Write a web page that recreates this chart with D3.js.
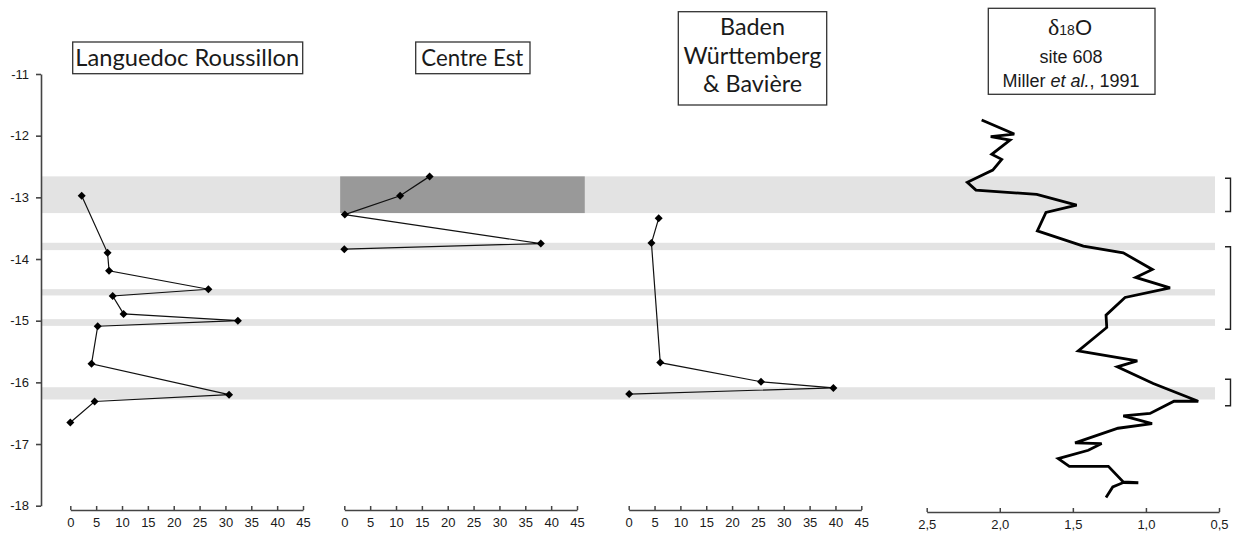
<!DOCTYPE html>
<html>
<head>
<meta charset="utf-8">
<script src="https://cdn.jsdelivr.net/npm/d3@7"></script>
<style>
  html, body { margin: 0; padding: 0; background: #fff; }
  svg { display: block; }
  text { font-family: "Liberation Sans", Arial, sans-serif; fill: #1a1a1a; }
  .title { font-family: Lato, "Open Sans", sans-serif; }
</style>
</head>
<body>
<svg id="chart" width="1236" height="535"></svg>
<script>
// ---------------- DATA ----------------
const yTicks = [-11, -12, -13, -14, -15, -16, -17, -18];
const countTicks = [0, 5, 10, 15, 20, 25, 30, 35, 40, 45];
const d18Ticks = [2.5, 2.0, 1.5, 1.0, 0.5];
const d18TickLabels = ["2,5", "2,0", "1,5", "1,0", "0,5"];

// highlighted horizons [top, bottom] (age axis)
const bandTops    = [-12.66, -13.737, -14.489, -14.975, -16.079];
const bandBottoms = [-13.255, -13.856, -14.591, -15.084, -16.278];

// Centre Est dark box (x in panel units, y range)
const centreBoxX = [-0.8, 46.5];
const centreBoxY = [-12.66, -13.255];

// Languedoc Roussillon
const lrAge   = [-12.975, -13.90, -14.19, -14.49, -14.60, -14.89, -15.00, -15.09, -15.70, -16.20, -16.31, -16.65];
const lrValue = [2.2, 7.2, 7.5, 26.7, 8.2, 10.3, 32.4, 5.3, 4.1, 30.7, 4.7, 0];

// Centre Est
const ceAge   = [-12.66, -12.975, -13.28, -13.75, -13.84];
const ceValue = [16.5, 10.8, 0.1, 38.0, 0];

// Baden Württemberg & Bavière
const bwAge   = [-13.34, -13.74, -15.68, -15.99, -16.09, -16.19];
const bwValue = [5.8, 4.4, 6.1, 25.6, 39.6, 0.1];

// δ18O site 608 (Miller et al., 1991)
const d18Age = [-11.746, -11.974, -12.017, -12.071, -12.303, -12.384, -12.558, -12.757, -12.882, -12.952,
                -13.126, -13.244, -13.543, -13.791, -13.900, -14.169, -14.299, -14.467, -14.623, -14.910,
                -15.110, -15.490, -15.652, -15.749, -16.019, -16.306, -16.306, -16.505, -16.544, -16.668,
                -16.744, -16.982, -16.992, -17.101, -17.236, -17.361, -17.361, -17.615, -17.628, -17.625,
                -17.696, -17.868];
const d18Value = [2.124, 1.901, 2.062, 1.930, 2.055, 1.987, 2.048, 2.222, 2.163, 1.747,
                  1.474, 1.684, 1.743, 1.428, 1.155, 0.956, 1.070, 0.835, 1.143, 1.273,
                  1.268, 1.463, 1.059, 1.196, 0.950, 0.642, 0.808, 0.972, 1.155, 0.958,
                  1.191, 1.485, 1.303, 1.394, 1.600, 1.524, 1.257, 1.155, 1.052, 1.155,
                  1.227, 1.273];

// brackets on the right [top, bottom]
const bracketTops    = [-12.69, -13.80, -15.95];
const bracketBottoms = [-13.23, -15.14, -16.38];

const titles = [["Languedoc Roussillon"], ["Centre Est"], ["Baden", "Württemberg", "& Bavière"]];

// ---------------- CHART ----------------
const svg = d3.select("#chart");
svg.append("rect").attr("width", 1236).attr("height", 535).attr("fill", "#fff");

const y = d3.scaleLinear().domain([-11, -18]).range([74, 505.7]);
const x1 = d3.scaleLinear().domain([0, 45]).range([70.3, 303]);
const x2 = d3.scaleLinear().domain([0, 45]).range([344.3, 577]);
const x3 = d3.scaleLinear().domain([0, 45]).range([628.7, 861.3]);
const x4 = d3.scaleLinear().domain([2.5, 0.5]).range([926.7, 1219]);

const bandLeft = 41, bandRight = 1215;

// bands
svg.append("g").selectAll("rect").data(bandTops).join("rect")
  .attr("x", bandLeft).attr("width", bandRight - bandLeft)
  .attr("y", d => y(d))
  .attr("height", (d, i) => y(bandBottoms[i]) - y(d))
  .attr("fill", "#e3e3e3");

// Centre Est dark box
svg.append("rect")
  .attr("x", x2(centreBoxX[0])).attr("width", x2(centreBoxX[1]) - x2(centreBoxX[0]))
  .attr("y", y(centreBoxY[0])).attr("height", y(centreBoxY[1]) - y(centreBoxY[0]))
  .attr("fill", "#999999");

// Y axis
const yAxis = svg.append("g").attr("transform", "translate(41,0)")
  .call(d3.axisLeft(y).tickValues(yTicks).tickFormat(d => String(d)).tickSize(5).tickSizeOuter(0).tickPadding(7));
yAxis.selectAll("path, line").attr("stroke", "#444").attr("stroke-width", 1.6);
yAxis.selectAll("text").attr("font-size", 13).attr("fill", "#111")
  .style("font-family", "'Liberation Sans', Arial, sans-serif");

// X axes
function bottomAxis(scale, yPos, ticks, fmt) {
  const g = svg.append("g").attr("transform", `translate(0,${yPos})`)
    .call(d3.axisBottom(scale).tickValues(ticks).tickFormat(fmt).tickSizeInner(-4).tickSizeOuter(0).tickPadding(8));
  g.selectAll("path, line").attr("stroke", "#444").attr("stroke-width", 1.5);
  g.selectAll("text").attr("font-size", 13).attr("fill", "#111")
    .style("font-family", "'Liberation Sans', Arial, sans-serif");
  return g;
}
bottomAxis(x1, 510, countTicks, d => String(d));
bottomAxis(x2, 510, countTicks, d => String(d));
bottomAxis(x3, 510, countTicks, d => String(d));
bottomAxis(x4, 512, d18Ticks, (d, i) => d18TickLabels[i]);

// series with diamonds
const diamond = d3.symbol(d3.symbolSquare, 32);
function series(xs, ages, vals) {
  const pts = ages.map((a, i) => [xs(vals[i]), y(a)]);
  svg.append("path").attr("d", d3.line()(pts))
    .attr("fill", "none").attr("stroke", "#111").attr("stroke-width", 1.2);
  svg.append("g").selectAll("path").data(pts).join("path")
    .attr("d", diamond)
    .attr("transform", d => `translate(${d[0]},${d[1]}) rotate(45)`)
    .attr("fill", "#000");
}
series(x1, lrAge, lrValue);
series(x2, ceAge, ceValue);
series(x3, bwAge, bwValue);

// δ18O curve
svg.append("path")
  .attr("d", d3.line().x((d, i) => x4(d18Value[i])).y(d => y(d))(d18Age))
  .attr("fill", "none").attr("stroke", "#000").attr("stroke-width", 2.8)
  .attr("stroke-linejoin", "miter").attr("stroke-miterlimit", 3);

// brackets
const bx0 = 1225, bx1 = 1230.5;
svg.append("g").selectAll("path").data(bracketTops).join("path")
  .attr("d", (d, i) => `M${bx0},${y(d)}H${bx1}V${y(bracketBottoms[i])}H${bx0}`)
  .attr("fill", "none").attr("stroke", "#222").attr("stroke-width", 1.4);

// ---------------- TITLES ----------------
function fitText(t, target, maxSize) {
  let fs = maxSize;
  t.attr("font-size", fs);
  const w = t.node().getComputedTextLength();
  if (w > 0) { fs = Math.min(maxSize * 1.3, fs * target / w); t.attr("font-size", fs); }
  return fs;
}
const boxes = [
  {x0: 72.7, x1: 302.7, y0: 42, y1: 73.7, cx: 187.2, base: [65.5], tw: 224},
  {x0: 415.7, x1: 530, y0: 42, y1: 73.7, cx: 472.3, base: [65.5], tw: 102},
  {x0: 678.3, x1: 826.7, y0: 11.7, y1: 105, cx: 752.5, base: [35, 63.6, 92.4], tw: 138}
];
titles.forEach((lines, k) => {
  const b = boxes[k];
  svg.append("rect").attr("x", b.x0).attr("y", b.y0)
    .attr("width", b.x1 - b.x0).attr("height", b.y1 - b.y0)
    .attr("fill", "#fff").attr("stroke", "#333").attr("stroke-width", 1.3);
  const ts = lines.map((s, j) => svg.append("text").attr("class", "title")
    .attr("x", b.cx).attr("y", b.base[j]).attr("text-anchor", "middle").text(s));
  const widest = lines.reduce((m, s, j) => s.length > lines[m].length ? j : m, 0);
  const fs = fitText(ts[widest], b.tw, 23);
  ts.forEach(t => t.attr("font-size", fs));
});

// δ18O title box
svg.append("rect").attr("x", 988.3).attr("y", 8.3).attr("width", 166.7).attr("height", 86)
  .attr("fill", "#fff").attr("stroke", "#333").attr("stroke-width", 1.3);
const tD = svg.append("text").attr("x", 1070).attr("y", 35).attr("text-anchor", "middle");
tD.append("tspan").text("δ").attr("font-size", 24).style("font-family", "'Liberation Serif', 'DejaVu Serif', serif");
tD.append("tspan").text("18").attr("font-size", 14);
tD.append("tspan").text("O").attr("font-size", 22);
svg.append("text").attr("x", 1071).attr("y", 63.3).attr("text-anchor", "middle")
  .attr("font-size", 18).text("site 608");
const tM = svg.append("text").attr("x", 1071).attr("y", 87.3).attr("text-anchor", "middle").attr("font-size", 18);
tM.append("tspan").text("Miller ");
tM.append("tspan").text("et al.").attr("font-style", "italic");
tM.append("tspan").text(", 1991");
</script>
</body>
</html>
